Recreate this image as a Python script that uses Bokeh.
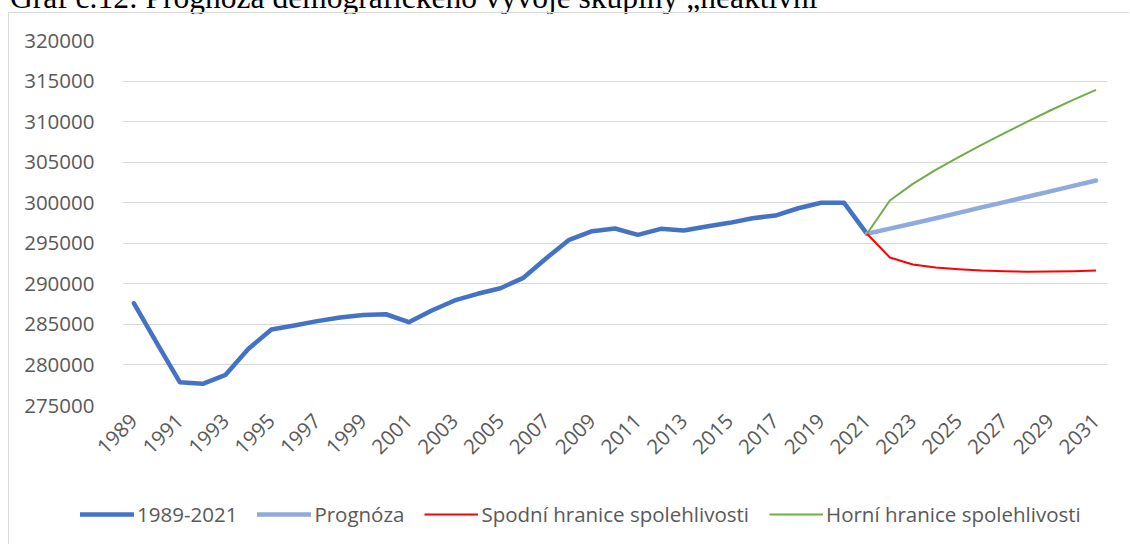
from bokeh.plotting import figure
from bokeh.models import (FixedTicker, BasicTickFormatter, Legend, LegendItem,
                          Div, Range1d)
from bokeh.layouts import column
from bokeh.embed import file_html
from bokeh.resources import INLINE
import math

# ---- data ----
hist_years = list(range(1989, 2022))
hist_values = [287600, 282700, 277870, 277670, 278780, 281990, 284370, 284860,
               285400, 285850, 286150, 286250, 285270, 286710, 287950, 288770,
               289460, 290740, 293160, 295430, 296490, 296820, 296040, 296780,
               296580, 297070, 297520, 298090, 298420, 299320, 299990, 299990,
               296170]
proj_years = list(range(2021, 2032))
proj_values = [296170, 296800, 297430, 298080, 298750, 299420, 300080, 300740,
               301400, 302070, 302740]
lower_values = [296170, 293250, 292380, 292010, 291800, 291640, 291560, 291480,
                291520, 291560, 291640]
upper_values = [296170, 300270, 302330, 304060, 305610, 307140, 308570, 310010,
                311370, 312690, 313920]
x_ticks = list(range(1989, 2032, 2))
y_ticks = list(range(275000, 320001, 5000))
series_names = ["1989-2021", "Prognóza", "Spodní hranice spolehlivosti",
                "Horní hranice spolehlivosti"]
title_text = "Graf č.12: Prognóza demografického vývoje skupiny „neaktivní“"

FONT = "Open Sans"
GRAY = "#595959"
STYLES = [dict(line_color="#4472C4", line_width=4.5, line_join="round", line_cap="round"),
          dict(line_color="#8FAADC", line_width=4.5, line_join="round", line_cap="round"),
          dict(line_color="#FF0000", line_width=2, line_join="round"),
          dict(line_color="#70AD47", line_width=2, line_join="round")]

p = figure(width=1121, height=470, output_backend="svg", toolbar_location=None,
           x_range=Range1d(1988.5, 2031.5), y_range=Range1d(275000, 320000),
           min_border_left=113, min_border_right=23, min_border_top=27,
           min_border_bottom=78)
p.outline_line_color = None
p.background_fill_color = "white"
p.border_fill_color = "white"

p.xaxis.ticker = FixedTicker(ticks=x_ticks)
p.yaxis.ticker = FixedTicker(ticks=y_ticks)
p.yaxis.formatter = BasicTickFormatter(use_scientific=False)
for ax in (p.xaxis[0], p.yaxis[0]):
    ax.axis_line_color = None
    ax.major_tick_line_color = None
    ax.minor_tick_line_color = None
    ax.major_label_text_font = FONT
    ax.major_label_text_font_size = "20.5px"
    ax.major_label_text_color = GRAY
p.yaxis.major_label_standoff = 22
p.xaxis.major_label_orientation = math.pi / 4
p.xaxis.major_label_standoff = 6
p.xgrid.grid_line_color = None
p.ygrid.grid_line_color = "#D9D9D9"
p.ygrid.grid_line_width = 1

p.line(hist_years, hist_values, **STYLES[0])
p.line(proj_years, proj_values, **STYLES[1])
p.line(proj_years, lower_values, **STYLES[2])
p.line(proj_years, upper_values, **STYLES[3])

# legend strip below the chart (legend samples only, no data drawn here)
lg = figure(width=1121, height=62, output_backend="svg", toolbar_location=None,
            x_range=Range1d(0, 1), y_range=Range1d(0, 1),
            x_axis_type=None, y_axis_type=None, min_border=0)
lg.outline_line_color = None
lg.xgrid.visible = False
lg.ygrid.visible = False
nan = float("nan")
lg_renderers = [lg.line([nan], [nan], **s) for s in STYLES]
legend = Legend(items=[LegendItem(label=n, renderers=[r]) for n, r in
                       zip(series_names, lg_renderers)],
                orientation="horizontal", location=(71, 16),
                label_text_font=FONT, label_text_font_size="20.5px",
                label_text_color=GRAY, glyph_width=54, glyph_height=20,
                label_standoff=3, spacing=20, padding=0, margin=0,
                border_line_color=None, background_fill_alpha=0)
lg.add_layout(legend, "center")

for fig in (p, lg):
    if "frame_align" in fig.properties():
        fig.frame_align = False

title = Div(text=title_text, margin=(-18, 0, 0, 10), height=30, width=1000,
            styles={"font-family": "Liberation Serif", "font-size": "31.5px",
                    "line-height": "32px", "color": "black",
                    "white-space": "nowrap"})
p.margin = (0, 0, 0, 8)
lg.margin = (0, 0, 0, 8)
p.styles = {"border-left": "1px solid #D9D9D9", "border-top": "1px solid #D9D9D9"}
lg.styles = {"border-left": "1px solid #D9D9D9"}

layout = column(title, p, lg, spacing=0)
open("out.html", "w").write(file_html(layout, INLINE))
